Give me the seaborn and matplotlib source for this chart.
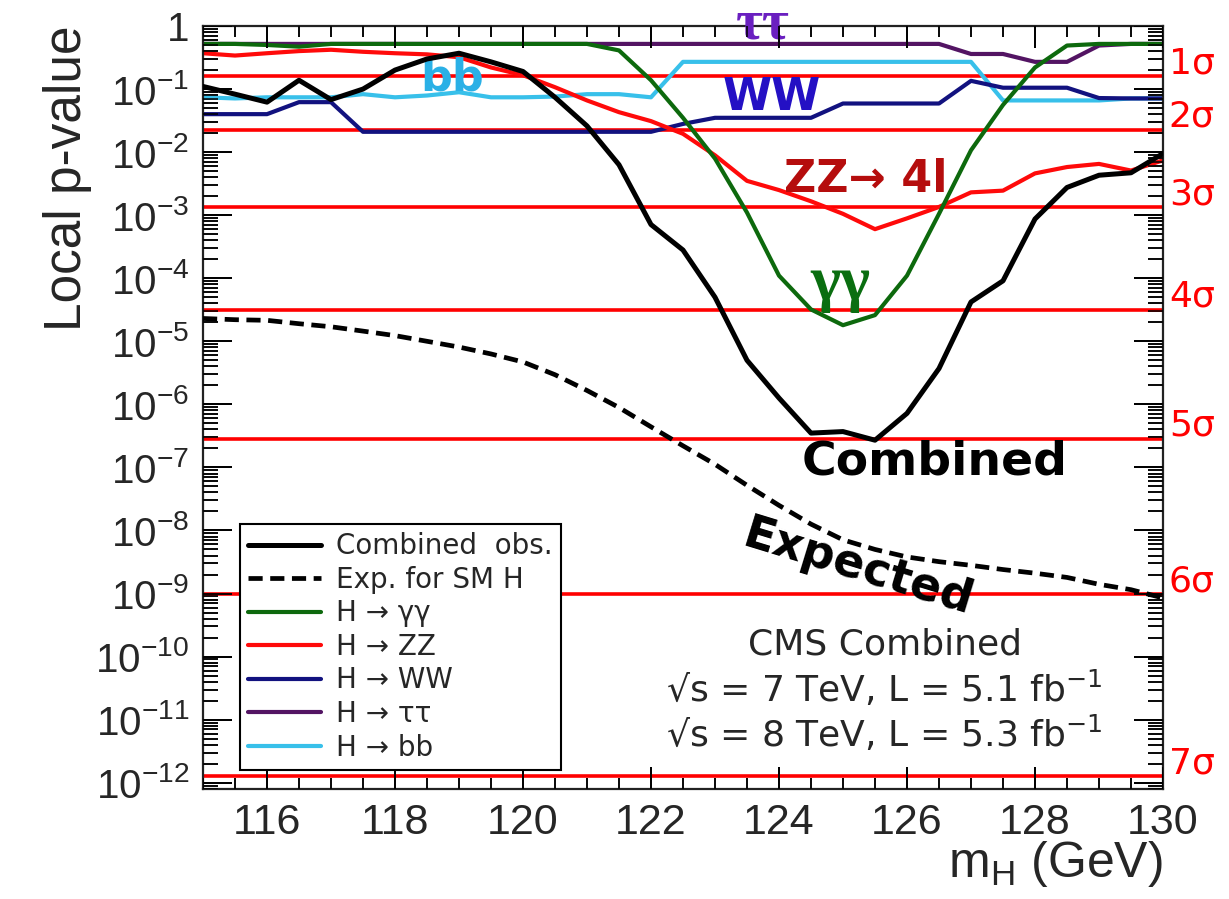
import numpy as np
import matplotlib
matplotlib.use("Agg")
import matplotlib.pyplot as plt
import matplotlib.ticker as mticker
import seaborn as sns

# -------------------------------
# Data: local p-values
# -------------------------------
mass = [115.0, 115.5, 116.0, 116.5, 117.0, 117.5, 118.0, 118.5, 119.0, 119.5, 120.0,
        120.5, 121.0, 121.5, 122.0, 122.5, 123.0, 123.5, 124.0, 124.5, 125.0,
        125.5, 126.0, 126.5, 127.0, 127.5, 128.0, 128.5, 129.0, 129.5, 130.0]

p_comb = [0.11, 0.083, 0.062, 0.138, 0.068, 0.10, 0.20, 0.30, 0.37, 0.27, 0.19,
          0.074, 0.026, 6.3e-3, 7.1e-4, 2.8e-4, 5.0e-5, 5.0e-6, 1.26e-6, 3.5e-7, 3.7e-7,
          2.7e-7, 7.2e-7, 3.7e-6, 4.2e-5, 9.1e-5, 8.7e-4, 2.75e-3, 4.3e-3, 4.7e-3, 9.5e-3]

p_exp = [2.3e-5, 2.2e-5, 2.15e-5, 1.9e-5, 1.7e-5, 1.45e-5, 1.23e-5, 1.0e-5, 8.1e-6, 6.3e-6, 4.7e-6,
         2.95e-6, 1.66e-6, 8.9e-7, 4.4e-7, 2.2e-7, 1.12e-7, 5.2e-8, 2.5e-8, 1.26e-8, 7.1e-9,
         5.0e-9, 3.8e-9, 3.2e-9, 2.8e-9, 2.4e-9, 2.1e-9, 1.8e-9, 1.4e-9, 1.15e-9, 8.5e-10]

p_gg = [0.52, 0.52, 0.50, 0.47, 0.52, 0.52, 0.52, 0.52, 0.52, 0.52, 0.52,
        0.52, 0.52, 0.41, 0.138, 0.035, 7.9e-3, 1.1e-3, 1.1e-4, 3.2e-5, 1.8e-5,
        2.6e-5, 1.1e-4, 1.05e-3, 0.0107, 0.056, 0.22, 0.49, 0.52, 0.52, 0.52]

p_zz = [0.37, 0.34, 0.37, 0.40, 0.42, 0.39, 0.37, 0.355, 0.32, 0.22, 0.166,
        0.107, 0.066, 0.043, 0.031, 0.0195, 8.9e-3, 3.5e-3, 2.5e-3, 1.66e-3, 1.05e-3,
        6.0e-4, 8.9e-4, 1.35e-3, 2.3e-3, 2.45e-3, 4.6e-3, 5.8e-3, 6.5e-3, 5.1e-3, 7.4e-3]

p_ww = [0.040, 0.040, 0.040, 0.062, 0.062, 0.021, 0.021, 0.021, 0.021, 0.021, 0.021,
        0.021, 0.021, 0.021, 0.021, 0.028, 0.035, 0.035, 0.035, 0.035, 0.059,
        0.059, 0.059, 0.059, 0.135, 0.105, 0.105, 0.105, 0.072, 0.071, 0.071]

p_tt = [0.52, 0.52, 0.52, 0.52, 0.52, 0.52, 0.52, 0.52, 0.52, 0.52, 0.52,
        0.52, 0.52, 0.52, 0.52, 0.52, 0.52, 0.52, 0.52, 0.52, 0.52,
        0.52, 0.52, 0.52, 0.36, 0.36, 0.27, 0.27, 0.49, 0.52, 0.52]

p_bb = [0.074, 0.071, 0.074, 0.074, 0.074, 0.083, 0.074, 0.079, 0.089, 0.074, 0.074,
        0.076, 0.083, 0.083, 0.074, 0.27, 0.27, 0.27, 0.27, 0.27, 0.27,
        0.27, 0.27, 0.27, 0.27, 0.066, 0.066, 0.066, 0.066, 0.071, 0.071]

# one-sided p-values of the n-sigma reference lines
sigma_p = [0.1587, 0.02275, 1.35e-3, 3.167e-5, 2.867e-7, 9.866e-10, 1.28e-12]
sigma_labels = ["1σ", "2σ", "3σ", "4σ", "5σ", "6σ", "7σ"]

y_decades = [1e-12, 1e-11, 1e-10, 1e-9, 1e-8, 1e-7, 1e-6, 1e-5, 1e-4, 1e-3, 1e-2, 1e-1, 1.0]

legend_order = ["Combined  obs.", "Exp. for SM H", "H → γγ", "H → ZZ",
                "H → WW", "H → ττ", "H → bb"]

# -------------------------------
# Style
# -------------------------------
sns.set_style("ticks")
plt.rcParams["font.family"] = ["Liberation Sans", "DejaVu Sans"]

fig = plt.figure(figsize=(12.29, 8.99), dpi=100)
ax = fig.add_axes([203 / 1229, 1 - 789 / 899, 960 / 1229, 763 / 899])
ax.set_yscale("log")

# sigma lines
for p in sigma_p:
    ax.axhline(p, color="#ff0000", lw=2.6, zorder=1)

# -------------------------------
# Curves
# -------------------------------
sns.lineplot(x=mass, y=p_tt, ax=ax, color="#531463", lw=3.0, errorbar=None,
             label="H → ττ", zorder=2)
sns.lineplot(x=mass, y=p_bb, ax=ax, color="#38c0ea", lw=3.0, errorbar=None,
             label="H → bb", zorder=2.1)
sns.lineplot(x=mass, y=p_ww, ax=ax, color="#12127f", lw=3.0, errorbar=None,
             label="H → WW", zorder=2.2)
sns.lineplot(x=mass, y=p_zz, ax=ax, color="#ff0a0a", lw=3.0, errorbar=None,
             label="H → ZZ", zorder=2.3)
sns.lineplot(x=mass, y=p_gg, ax=ax, color="#0d690d", lw=3.0, errorbar=None,
             label="H → γγ", zorder=2.4)
sns.lineplot(x=mass, y=p_exp, ax=ax, color="black", lw=3.4, errorbar=None,
             linestyle="--", label="Exp. for SM H", zorder=3)
ax.lines[-1].set_dashes((3.0, 1.6))
sns.lineplot(x=mass, y=p_comb, ax=ax, color="black", lw=3.6, errorbar=None,
             label="Combined  obs.", zorder=3.5)

# -------------------------------
# Axes
# -------------------------------
ax.set_xlim(115, 130)
ax.set_ylim(10 ** -12.1, 1)

ax.xaxis.set_major_locator(mticker.MultipleLocator(2))
ax.xaxis.set_minor_locator(mticker.MultipleLocator(0.5))
ax.yaxis.set_major_locator(mticker.FixedLocator(y_decades))
ax.yaxis.set_minor_locator(mticker.LogLocator(base=10, subs=np.arange(2, 10), numticks=30))
ax.yaxis.set_minor_formatter(mticker.NullFormatter())


def ylab(v, pos):
    e = int(round(np.log10(v)))
    if e == 0:
        return "1"
    return r"$\mathregular{10^{%d}}$" % e


ax.yaxis.set_major_formatter(mticker.FuncFormatter(ylab))
ax.tick_params(axis="y", which="major", direction="in", length=21, width=1.3,
               color="black", left=True, right=True, labelsize=29, pad=10)
ax.tick_params(axis="y", which="minor", direction="in", length=11, width=1.1,
               color="black", left=True, right=True)
ax.tick_params(axis="x", which="major", direction="in", length=16, width=1.3,
               color="black", top=True, bottom=True, labelsize=31, pad=10)
ax.tick_params(axis="x", which="minor", direction="in", length=8, width=1.1,
               color="black", top=True, bottom=True)
for s in ax.spines.values():
    s.set_linewidth(1.6)
    s.set_color("#222222")

# inward ROOT-style ticks also drawn as short segments at the locator positions,
# so they show on all four sides whatever the tick renderer does
xt = ax.get_xaxis_transform()
yt = ax.get_yaxis_transform()
x_major = ax.xaxis.get_majorticklocs()
x_minor = ax.xaxis.get_minorticklocs()
y_major = ax.yaxis.get_majorticklocs()
y_minor = ax.yaxis.get_minorticklocs()
tick_kw = dict(colors="black", zorder=4)
ax.vlines(x_major, 0, 0.029, transform=xt, lw=1.3, **tick_kw)
ax.vlines(x_major, 1 - 0.029, 1, transform=xt, lw=1.3, **tick_kw)
ax.vlines(x_minor, 0, 0.0145, transform=xt, lw=1.1, **tick_kw)
ax.vlines(x_minor, 1 - 0.0145, 1, transform=xt, lw=1.1, **tick_kw)
ax.hlines(y_major, 0, 0.030, transform=yt, lw=1.3, **tick_kw)
ax.hlines(y_major, 1 - 0.030, 1, transform=yt, lw=1.3, **tick_kw)
ax.hlines(y_minor, 0, 0.016, transform=yt, lw=1.1, **tick_kw)
ax.hlines(y_minor, 1 - 0.016, 1, transform=yt, lw=1.1, **tick_kw)

ax.set_ylabel("Local p-value", fontsize=37, loc="top")
ax.yaxis.set_label_coords(-0.116, 1.0)
ax.set_xlabel(r"$\mathregular{m_H}$ (GeV)", fontsize=36, loc="right")
ax.xaxis.set_label_coords(1.0, -0.066)

# sigma labels on the right
for p, lbl in zip(sigma_p, sigma_labels):
    ax.annotate(lbl, xy=(1.006, p), xycoords=yt,
                xytext=(0, 2), textcoords="offset points",
                ha="left", va="baseline", color="#ff0000", fontsize=26,
                family="DejaVu Sans", annotation_clip=False)

# -------------------------------
# Annotations
# -------------------------------
bold = dict(family="DejaVu Sans", fontweight="bold", ha="center", va="center")
ax.text(0.583, 0.984, "ττ", color="#6a1fc0", fontsize=42, fontweight="bold",
        family="Liberation Serif", ha="center", va="baseline", transform=ax.transAxes)
ax.text(0.259, 0.932, "bb", color="#2ab0e6", fontsize=32, transform=ax.transAxes, **bold)
ax.text(0.593, 0.906, "WW", color="#2410c4", fontsize=32, transform=ax.transAxes, **bold)
ax.text(0.690, 0.799, "ZZ→ 4l", color="#b50d0d", fontsize=32, transform=ax.transAxes, **bold)
ax.text(0.664, 0.662, "γγ", color="#0a6e10", fontsize=46, fontweight="bold",
        family="Liberation Serif", ha="center", va="center", transform=ax.transAxes)
ax.text(0.7625, 0.428, "Combined", color="black", fontsize=34, transform=ax.transAxes, **bold)
ax.text(0.682, 0.289, "Expected", color="black", fontsize=33, rotation=-17,
        transform=ax.transAxes, **bold)

cms = dict(family="DejaVu Sans", fontsize=26, ha="center", va="center",
           transform=ax.transAxes)
ax.text(0.710, 0.190, "CMS Combined", **cms)
ax.text(0.710, 0.131, r"√s = 7 TeV, L = 5.1 fb$^{-1}$", **cms)
ax.text(0.710, 0.072, r"√s = 8 TeV, L = 5.3 fb$^{-1}$", **cms)

# -------------------------------
# Legend
# -------------------------------
handles, labels = ax.get_legend_handles_labels()
lookup = dict(zip(labels, handles))
leg = ax.legend([lookup[l] for l in legend_order], legend_order,
                loc="lower left", bbox_to_anchor=(0.0385, 0.025), borderaxespad=0,
                frameon=True, fancybox=False, framealpha=1, edgecolor="black",
                prop={"family": "DejaVu Sans", "size": 20},
                handlelength=2.6, handletextpad=0.55, labelspacing=0.2, borderpad=0.3)
leg.get_frame().set_linewidth(1.5)
leg.set_zorder(10)

fig.savefig("out.png", dpi=100)
